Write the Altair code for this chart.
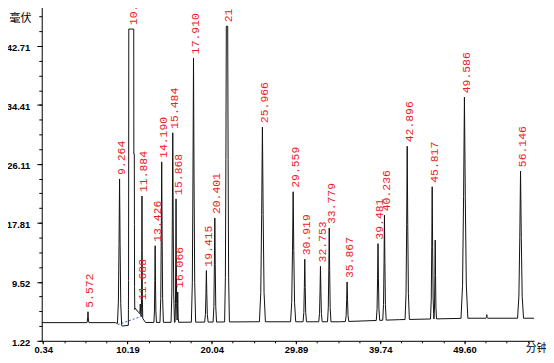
import altair as alt
import numpy as np
import pandas as pd

# ---- labelled peaks (retention time label, apex height in mV) ----
peak_labels = ["5.572", "9.264", "10.632", "11.688", "11.884", "13.426", "14.190",
               "15.484", "15.868", "16.066", "17.910", "19.415", "20.401", "21.826",
               "25.966", "29.559", "30.919", "32.753", "33.779", "35.867", "39.481",
               "40.236", "42.896", "45.817", "49.586", "56.146"]
peak_mv = [5.31, 24.0, 45.1, 6.4, 21.6, 14.6, 26.4,
           30.5, 21.2, 8.1, 41.0, 11.1, 18.5, 45.5,
           31.3, 22.2, 12.7, 11.7, 17.1, 9.5, 14.9,
           18.9, 28.6, 22.9, 35.5, 25.1]
# peak half width at base (min) and flat-top half width (saturated peaks)
peak_half = [0.12, 0.25, 0.05, 0.1, 0.09, 0.15, 0.2,
             0.2, 0.12, 0.1, 0.25, 0.2, 0.2, 0.2,
             0.35, 0.3, 0.2, 0.2, 0.2, 0.2, 0.2,
             0.2, 0.25, 0.2, 0.4, 0.35]
peak_flat = [0, 0, 0.29, 0, 0, 0, 0,
             0, 0, 0, 0, 0, 0, 0.08,
             0, 0, 0, 0, 0, 0, 0,
             0, 0, 0, 0, 0]

# ---- unlabelled shoulders / small bumps ----
shoulder_rt = [10.95, 46.17, 52.2]
shoulder_mv = [27.5, 15.4, 4.9]
shoulder_half = [0.05, 0.15, 0.1]
shoulder_flat = [0.04, 0.0, 0.0]

# ---- baseline ----
base_t = [0.17, 8.8, 9.6, 10.3, 11.1, 11.5, 12.3, 25.0, 35.0, 42.0, 50.0, 57.73]
base_mv = [3.78, 3.78, 3.3, 3.4, 5.8, 5.2, 3.8, 3.9, 3.9, 4.2, 4.4, 4.4]

# ---- integration baseline (blue dotted) ----
blue_t = [9.05, 11.93]
blue_mv = [3.5, 4.7]

# ---- axes ----
x_ticks = [0.34, 10.19, 20.04, 29.89, 39.74, 49.60]
y_ticks = [1.22, 9.52, 17.81, 26.11, 34.41, 42.71]
X_DOMAIN = [0.166, 57.73]
Y_DOMAIN = [1.22, 49.0]

x_minor = list(np.arange(x_ticks[0], X_DOMAIN[1], (x_ticks[1] - x_ticks[0]) / 4))
y_minor = list(np.arange(y_ticks[0], Y_DOMAIN[1], (y_ticks[1] - y_ticks[0]) / 4))

# peak profile used to draw each peak (fraction of half width -> fraction of height)
prof_f = [0.0, 0.25, 0.55, 1.0]
prof_s = [1.0, 0.55, 0.15, 0.0]

# ---- build trace vertices from the peak table ----
peak_rt = [float(s) for s in peak_labels]
centers = peak_rt + shoulder_rt
heights = peak_mv + shoulder_mv
halfs = peak_half + shoulder_half
flats = peak_flat + shoulder_flat

knots = set(base_t)
for c, w, p in zip(centers, halfs, flats):
    knots.add(c)
    for f in prof_f:
        knots.update([c - p - f * w, c + p + f * w])
ts = np.array(sorted(knots))
ts = ts[(ts >= X_DOMAIN[0]) & (ts <= X_DOMAIN[1])]
base = np.interp(ts, base_t, base_mv)
vals = base.copy()
for c, h, w, p in zip(centers, heights, halfs, flats):
    d = np.clip(np.abs(ts - c) - p, 0, None) / w
    s = np.interp(d, prof_f, prof_s, right=0.0)
    vals = np.maximum(vals, base + (h - base) * s)

trace = pd.DataFrame({"t": ts, "mv": vals})
labels = pd.DataFrame({"t": peak_rt, "mv": peak_mv, "label": peak_labels})
blue = pd.DataFrame({"t": blue_t, "mv": blue_mv})

xs = alt.Scale(domain=X_DOMAIN, nice=False, zero=False)
ys = alt.Scale(domain=Y_DOMAIN, nice=False, zero=False)

AX_FONT = "Liberation Sans"
CJK = "Noto Sans CJK SC"

x_axis = alt.Axis(values=x_ticks, format=".2f", grid=False, labelFlush=False,
                  labelFont=AX_FONT, labelFontSize=9.5, labelFontWeight="bold",
                  labelColor="#000", tickSize=3, labelPadding=1,
                  domainColor="#000", tickColor="#000", orient="bottom",
                  title="分钟", titleFont=CJK, titleFontSize=11, titleFontWeight="normal",
                  titleColor="#000", titleX=498, titleY=8, titleAlign="center",
                  titleBaseline="middle", titleAnchor="start")
y_axis = alt.Axis(values=y_ticks, format=".2f", grid=False, labelFlush=False,
                  labelFont=AX_FONT, labelFontSize=9.5, labelFontWeight="bold",
                  labelColor="#000", tickSize=5, labelPadding=7, labelOffset=2,
                  domainColor="#000", tickColor="#000", orient="left",
                  title="毫伏", titleFont=CJK, titleFontSize=11, titleFontWeight="normal",
                  titleColor="#000", titleAngle=0, titleX=-22, titleY=17,
                  titleAlign="center", titleBaseline="middle", titleAnchor="start")

line = alt.Chart(trace).mark_line(color="#111111", strokeWidth=1).encode(
    x=alt.X("t:Q", scale=xs, axis=x_axis),
    y=alt.Y("mv:Q", scale=ys, axis=y_axis),
)

minor = alt.Chart(trace).mark_point(opacity=0).encode(
    x=alt.X("t:Q", scale=xs, axis=alt.Axis(values=x_minor, labels=False, domain=False,
                                           grid=False, tickSize=2, tickColor="#000",
                                           orient="bottom", title=None)),
    y=alt.Y("mv:Q", scale=ys, axis=alt.Axis(values=y_minor, labels=False, domain=False,
                                            grid=False, tickSize=3, tickColor="#000",
                                            orient="left", title=None)),
)

blue_line = alt.Chart(blue).mark_line(color="#3060d8", strokeWidth=1, strokeDash=[2, 2]).encode(
    x=alt.X("t:Q", scale=xs, axis=None), y=alt.Y("mv:Q", scale=ys, axis=None))

text = alt.Chart(labels).mark_text(angle=270, align="left", baseline="middle",
                                   dx=4, dy=2.5, font="Liberation Mono", fontSize=11.5,
                                   color="#ec1c24").encode(
    x=alt.X("t:Q", scale=xs, axis=None), y=alt.Y("mv:Q", scale=ys, axis=None),
    text="label:N")

chart = alt.layer(minor, blue_line, line, text).resolve_axis(
    x="independent", y="independent"
).properties(
    width=496, height=342,
    autosize=alt.AutoSizeParams(type="none"),
    padding={"left": 34, "top": -8, "right": 12, "bottom": 13},
    background="white",
).configure_view(stroke=None)

chart.save("out.html", embed_options={"renderer": "svg", "actions": False})
